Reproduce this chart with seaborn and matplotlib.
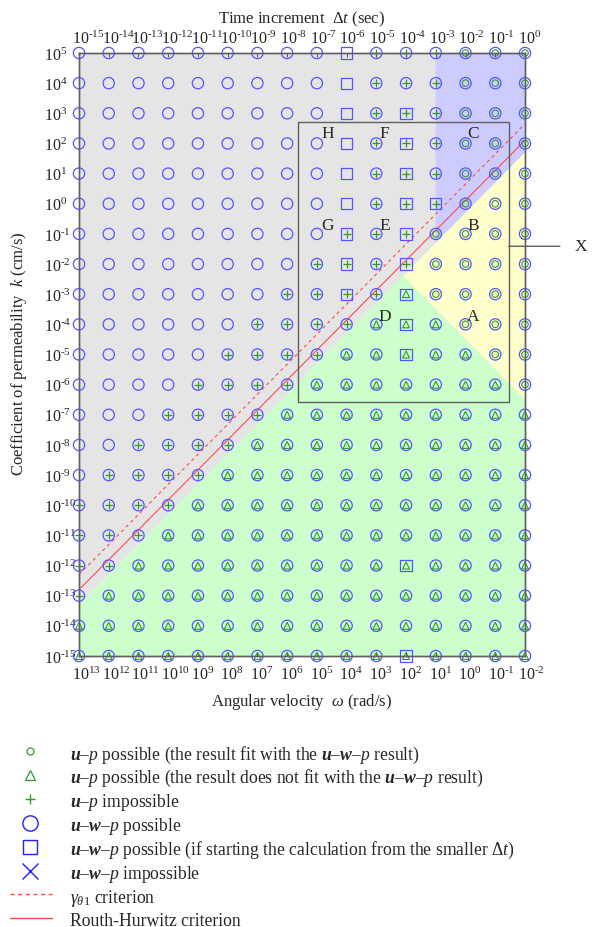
import numpy as np
import pandas as pd
import matplotlib
matplotlib.use("Agg")
import matplotlib.pyplot as plt
import matplotlib.transforms as mtransforms
from matplotlib.ticker import FixedLocator, NullLocator
import seaborn as sns

# ------------------------------------------------------------------ data
omega_exp = list(range(13, -3, -1))     # angular velocity exponents (columns, left -> right)
k_exp = list(range(5, -16, -1))         # permeability exponents (rows, top -> bottom)
dt_exp = list(range(-15, 1))            # time increment exponents (top axis)

# u-w-p result per cell: C = possible, S = possible if starting from smaller dt
uwp_rows = [
    "CCCCCCCCCSCCCCCC",  # k=1e5
    "CCCCCCCCCSCCCCCC",  # 1e4
    "CCCCCCCCCSCSCCCC",  # 1e3
    "CCCCCCCCCSCSCCCC",  # 1e2
    "CCCCCCCCCSCSCCCC",  # 1e1
    "CCCCCCCCCSCSSCCC",  # 1e0
    "CCCCCCCCCSCSCCCC",  # 1e-1
    "CCCCCCCCCSCSCCCC",  # 1e-2
    "CCCCCCCCCSCSCCCC",  # 1e-3
    "CCCCCCCCCCCSCCCC",  # 1e-4
    "CCCCCCCCCCCSCCCC",  # 1e-5
    "CCCCCCCCCCCCCCCC",  # 1e-6
    "CCCCCCCCCCCCCCCC",  # 1e-7
    "CCCCCCCCCCCCCCCC",  # 1e-8
    "CCCCCCCCCCCCCCCC",  # 1e-9
    "CCCCCCCCCCCCCCCC",  # 1e-10
    "CCCCCCCCCCCCCCCC",  # 1e-11
    "CCCCCCCCCCCSCCCC",  # 1e-12
    "CCCCCCCCCCCCCCCC",  # 1e-13
    "CCCCCCCCCCCCCCCC",  # 1e-14
    "CCCCCCCCCCCSCCCC",  # 1e-15
]
# u-p result per cell: o = fits, ^ = does not fit, + = impossible, . = none
up_rows = [
    "..........+++ooo",  # 1e5
    "..........+++ooo",
    "..........+++ooo",
    "..........+++ooo",
    "..........+++ooo",
    "..........+++ooo",  # 1e0
    ".........+++oooo",
    "........++++oooo",
    ".......++++^oooo",
    "......++++^^^ooo",
    ".....++++^^^^^oo",  # 1e-5
    "....++++^^^^^^^o",
    "...++++^^^^^^^^^",
    "..++++^^^^^^^^^^",
    ".++++^^^^^^^^^^^",
    "++++^^^^^^^^^^^^",  # 1e-10
    "+++^^^^^^^^^^^^^",
    "++^^^^^^^^^^^^^^",
    "+^^^^^^^^^^^^^^^",
    "^^^^^^^^^^^^^^^^",
    "^^^^^^^^^^^^^^^^",  # 1e-15
]

# shaded regions (log10 omega, log10 k)
blue_omega = [1, -2, -2, 1]
blue_k = [5, 5, 1.7, -1.3]
yellow_omega = [2.1, -2, -2]
yellow_k = [-2.4, 1.7, -6.5]
green_omega = [13, 2.1, -2, -2, 13]
green_k = [-13.3, -2.4, -6.5, -15, -15]

# criteria lines (log10 omega, log10 k)
routh_omega = [13, -2]
routh_k = [-12.8, 2.1]
gamma_omega = [13, -2]
gamma_k = [-12.3, 2.65]

# framed zone X and region letters
box_omega = [5.63, -1.45]
box_k = [2.72, -6.59]
x_callout_k = -1.41
region_labels = ["H", "F", "C", "G", "E", "B", "D", "A"]
label_omega = [4.65, 2.73, -0.27, 4.65, 2.73, -0.27, 2.73, -0.27]
label_k = [2.35, 2.35, 2.35, -0.7, -0.7, -0.7, -3.72, -3.72]

legend_labels = [
    r"$\mathbf{u}$–$p$ possible (the result fit with the $\mathbf{u}$–$\mathbf{w}$–$p$ result)",
    r"$\mathbf{u}$–$p$ possible (the result does not fit with the $\mathbf{u}$–$\mathbf{w}$–$p$ result)",
    r"$\mathbf{u}$–$p$ impossible",
    r"$\mathbf{u}$–$\mathbf{w}$–$p$ possible",
    r"$\mathbf{u}$–$\mathbf{w}$–$p$ possible (if starting the calculation from the smaller $\Delta t$)",
    r"$\mathbf{u}$–$\mathbf{w}$–$p$ impossible",
    r"$\gamma_{\theta 1}$ criterion",
    "Routh-Hurwitz criterion",
]

# ------------------------------------------------------------------ style
sns.set_style("white")
plt.rcParams["font.family"] = ["Liberation Serif", "DejaVu Serif"]
plt.rcParams["mathtext.fontset"] = "custom"
plt.rcParams["mathtext.rm"] = "Liberation Serif"
plt.rcParams["mathtext.it"] = "Liberation Serif:italic"
plt.rcParams["mathtext.bf"] = "Liberation Serif:bold:italic"

BLUE = "#5555ff"
GREEN = "#2f9a2f"
RED = "#ff4a4a"
FRAME = "#606060"
TICK_FS = 11.5
LABEL_FS = 12


def pow_label(e):
    if e < 0:
        return rf"$10^{{\text{{-}}{-e}}}$"
    return rf"$10^{{{e}}}$"


W, H = 597, 928
fig = plt.figure(figsize=(W / 100, H / 100), dpi=100)
ax_l, ax_r, ax_t, ax_b = 79, 525, 54, 657
ax = fig.add_axes([ax_l / W, 1 - ax_b / H, (ax_r - ax_l) / W, (ax_b - ax_t) / H])
ax.set_xscale("log")
ax.set_yscale("log")
ax.set_xlim(10.0 ** omega_exp[0], 10.0 ** omega_exp[-1])
ax.set_ylim(10.0 ** k_exp[-1], 10.0 ** k_exp[0])
ax.set_facecolor("#e5e5e5")

p10 = lambda v: 10.0 ** np.asarray(v, dtype=float)
ax.fill(p10(blue_omega), p10(blue_k), color="#ccccff", lw=0, zorder=0.5)
ax.fill(p10(yellow_omega), p10(yellow_k), color="#ffffcc", lw=0, zorder=0.5)
ax.fill(p10(green_omega), p10(green_k), color="#ccffcc", lw=0, zorder=0.5)

ax.plot(p10(gamma_omega), p10(gamma_k), color=RED, lw=0.8, ls=(0, (3, 3)), zorder=1)
ax.plot(p10(routh_omega), p10(routh_k), color=RED, lw=0.8, zorder=1)

bx = [box_omega[0], box_omega[1], box_omega[1], box_omega[0], box_omega[0]]
by = [box_k[0], box_k[0], box_k[1], box_k[1], box_k[0]]
ax.plot(p10(bx), p10(by), color=FRAME, lw=1.0, zorder=1.5)
for t, xo, yk in zip(region_labels, label_omega, label_k):
    ax.text(10.0 ** xo, 10.0 ** yk, t, fontsize=12.5, ha="center", va="center", zorder=5)
ax.annotate("X", xy=(10.0 ** box_omega[1], 10.0 ** x_callout_k), xytext=(51.8, 0),
            textcoords="offset points", ha="center", va="center", fontsize=12.5,
            arrowprops=dict(arrowstyle="-", color=FRAME, lw=1.0, shrinkA=8, shrinkB=0),
            annotation_clip=False)

# ------------------------------------------------------------------ markers
recs = []
for r, ke in enumerate(k_exp):
    for c, oe in enumerate(omega_exp):
        recs.append(dict(omega=10.0 ** oe, k=10.0 ** ke, uwp=uwp_rows[r][c], up=up_rows[r][c]))
df = pd.DataFrame(recs)

common = dict(ax=ax, legend=False, clip_on=False, zorder=3)
sns.scatterplot(data=df[df.uwp == "C"], x="omega", y="k", marker="o", s=66,
                facecolor="none", edgecolor=BLUE, linewidth=0.9, **common)
sns.scatterplot(data=df[df.uwp == "S"], x="omega", y="k", marker="s", s=66,
                facecolor="none", edgecolor=BLUE, linewidth=0.9, **common)
sns.scatterplot(data=df[df.up == "o"], x="omega", y="k", marker="o", s=22,
                facecolor="none", edgecolor=GREEN, linewidth=0.8, **common)
sns.scatterplot(data=df[df.up == "^"], x="omega", y="k", marker="^", s=25,
                facecolor="none", edgecolor=GREEN, linewidth=0.8, **common)
sns.scatterplot(data=df[df.up == "+"], x="omega", y="k", marker="+", s=27,
                color=GREEN, linewidth=0.9, **common)

# ------------------------------------------------------------------ axes cosmetics
for sp in ax.spines.values():
    sp.set_color(FRAME)
    sp.set_linewidth(1.0)

ax.xaxis.set_major_locator(FixedLocator(p10(omega_exp)))
ax.xaxis.set_minor_locator(NullLocator())
ax.yaxis.set_major_locator(FixedLocator(p10(k_exp)))
ax.yaxis.set_minor_locator(NullLocator())
ax.set_xticklabels([pow_label(e) for e in omega_exp])
ax.set_yticklabels([pow_label(e) for e in k_exp])
ax.tick_params(axis="x", direction="in", length=3, width=0.8, color=FRAME,
               labelsize=TICK_FS, pad=7)
ax.tick_params(axis="y", direction="in", length=3, width=0.8, color=FRAME,
               labelsize=TICK_FS, pad=25)

ax2 = ax.twiny()
ax2.set_xscale("log")
ax2.set_xlim(10.0 ** dt_exp[0], 10.0 ** dt_exp[-1])
ax2.xaxis.set_major_locator(FixedLocator(p10(dt_exp)))
ax2.xaxis.set_minor_locator(NullLocator())
ax2.set_xticklabels([pow_label(e) for e in dt_exp])
ax2.tick_params(axis="x", direction="in", length=3, width=0.8, color=FRAME,
                labelsize=TICK_FS, pad=4)
for sp in ax2.spines.values():
    sp.set_color(FRAME)
    sp.set_linewidth(1.0)

shift = mtransforms.ScaledTranslation(-7.2 / 100, 0, fig.dpi_scale_trans)
for lab in list(ax.get_xticklabels()) + list(ax2.get_xticklabels()):
    lab.set_horizontalalignment("left")
    lab.set_transform(lab.get_transform() + shift)
for lab in ax.get_yticklabels():
    lab.set_horizontalalignment("left")

ax.set_xlabel(r"Angular velocity  $\omega$ (rad/s)", fontsize=LABEL_FS)
ax.xaxis.set_label_coords(0.5, (ax_b - 692) / (ax_b - ax_t))
ax2.set_xlabel(r"Time increment  $\Delta t$ (sec)", fontsize=LABEL_FS)
ax2.xaxis.set_label_coords(0.5, (ax_b - 23) / (ax_b - ax_t))
ax.set_ylabel(r"Coefficient of permeability  $k$ (cm/s)", fontsize=LABEL_FS)
ax.yaxis.set_label_coords((29 - ax_l) / (ax_r - ax_l), (ax_b - 354) / (ax_b - ax_t))

# ------------------------------------------------------------------ legend
row0, step = 752, 23.9
y_top_px, y_bot_px = 738, H
lax = fig.add_axes([0, 0, 1, (y_bot_px - y_top_px) / H])
lax.set_xlim(0, W)
lax.set_ylim((y_bot_px - row0) / step, (y_top_px - row0) / step)
lax.axis("off")
rows = np.arange(len(legend_labels))
lax.plot([30], [rows[0]], marker="o", ms=5, mfc="none", mec=GREEN, mew=0.9, ls="none")
lax.plot([30], [rows[1]], marker="^", ms=6.5, mfc="none", mec=GREEN, mew=0.9, ls="none")
lax.plot([30], [rows[2]], marker="+", ms=7, color=GREEN, mew=1.0, ls="none")
lax.plot([30], [rows[3]], marker="o", ms=11, mfc="none", mec="#2020ff", mew=1.0, ls="none")
lax.plot([30], [rows[4]], marker="s", ms=10.5, mfc="none", mec="#2020ff", mew=1.0, ls="none")
lax.plot([30], [rows[5]], marker="x", ms=11, color="#2020ff", mew=1.0, ls="none")
lax.plot([10, 52], [rows[6], rows[6]], color=RED, lw=1.0, ls=(0, (3, 2.5)))
lax.plot([10, 52], [rows[7], rows[7]], color=RED, lw=1.0)
for i, lab in enumerate(legend_labels):
    lax.text(70, rows[i], lab, fontsize=12.7, ha="left", va="center_baseline")

fig.savefig("out.png", dpi=100)
